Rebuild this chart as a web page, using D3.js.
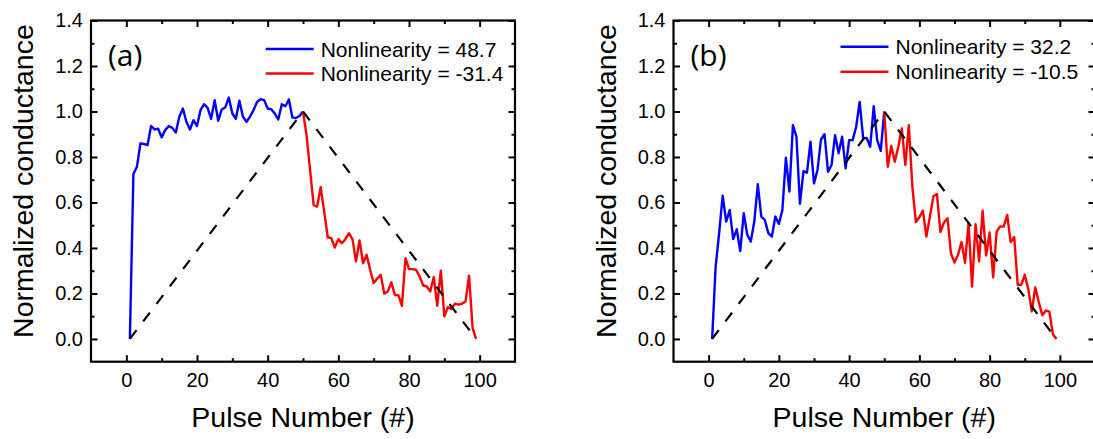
<!DOCTYPE html>
<html>
<head>
<meta charset="utf-8">
<script src="https://cdn.jsdelivr.net/npm/d3@7"></script>
<style>
	body { margin: 0; background: #fff; }
	svg { display: block; }
	text { font-family: "Liberation Sans", Arial, sans-serif; fill: #000; }
</style>
</head>
<body>
<svg width="1093" height="439"></svg>
<script>
// Pulse numbers for the potentiation (up) and depression (down) halves
var pulsesUp = d3.range(1, 51),
	pulsesDown = d3.range(50, 100)

// Panel (a) values
var aUp = [0.0, 0.725, 0.757, 0.86, 0.857, 0.852, 0.936, 0.921, 0.924, 0.886,
	0.918, 0.936, 0.928, 0.908, 0.977, 1.013, 0.955, 0.921, 0.962, 0.936,
	1.006, 1.032, 1.016, 0.968, 1.05, 0.959, 1.009, 1.018, 1.061, 0.991,
	0.968, 1.047, 0.977, 0.955, 0.977, 1.006, 1.042, 1.054, 1.05, 1.013,
	1.01, 0.991, 0.965, 1.032, 1.023, 1.053, 0.974, 0.971, 0.98, 1.0]
var aDown = [1.0, 0.896, 0.743, 0.589, 0.582, 0.667, 0.56, 0.447, 0.443, 0.402,
	0.439, 0.421, 0.439, 0.465, 0.439, 0.341, 0.433, 0.333, 0.37, 0.304,
	0.246, 0.265, 0.282, 0.199, 0.209, 0.249, 0.194, 0.192, 0.146, 0.355,
	0.307, 0.307, 0.304, 0.275, 0.235, 0.231, 0.209, 0.272, 0.146, 0.3,
	0.099, 0.14, 0.132, 0.155, 0.151, 0.155, 0.165, 0.278, 0.048, 0.0]

// Panel (b) values
var bUp = [0.0, 0.319, 0.465, 0.63, 0.516, 0.567, 0.439, 0.482, 0.387, 0.553,
	0.458, 0.428, 0.516, 0.68, 0.538, 0.523, 0.465, 0.45, 0.538, 0.506,
	0.567, 0.797, 0.648, 0.94, 0.889, 0.594, 0.738, 0.731, 0.867, 0.684,
	0.743, 0.877, 0.9, 0.735, 0.765, 0.896, 0.816, 0.889, 0.75, 0.874,
	0.874, 0.933, 1.042, 0.882, 0.884, 0.845, 1.023, 0.874, 0.827, 1.0]
var bDown = [1.0, 0.757, 0.849, 0.779, 0.845, 0.925, 0.765, 0.94, 0.67, 0.514,
	0.535, 0.564, 0.45, 0.538, 0.627, 0.637, 0.47, 0.512, 0.531, 0.375,
	0.336, 0.37, 0.426, 0.335, 0.509, 0.23, 0.505, 0.341, 0.564, 0.367,
	0.468, 0.271, 0.472, 0.495, 0.494, 0.545, 0.426, 0.448, 0.238, 0.238,
	0.282, 0.22, 0.121, 0.226, 0.162, 0.104, 0.125, 0.12, 0.022, 0.0]

// Ideal linear reference (dashed)
var refX = [1, 50, 99],
	refY = [0, 1, 0]

// Tick values
var xMajor = [0, 20, 40, 60, 80, 100],
	xMinor = [10, 30, 50, 70, 90],
	yMajor = [0, 0.2, 0.4, 0.6, 0.8, 1.0, 1.2, 1.4],
	yMinor = [0.1, 0.3, 0.5, 0.7, 0.9, 1.1, 1.3]

var legendA = ["Nonlinearity = 48.7", "Nonlinearity = -31.4"],
	legendB = ["Nonlinearity = 32.2", "Nonlinearity = -10.5"]

var svg = d3.select("svg")

function drawPanel(p) {
	var top = 20.5, bottom = 361.7
	var x = d3.scaleLinear().domain([-10, 110]).range([p.left, p.right]),
		y = d3.scaleLinear().domain([-0.1, 1.4]).range([bottom, top])

	var g = svg.append("g")

	// helper to style an axis group after d3 built it
	function fix(sel, size) {
		sel.select(".domain").remove()
		sel.attr("font-family", null).attr("font-size", size)
		sel.selectAll(".tick line").attr("stroke-width", 2)
	}

	// major and minor ticks on all four sides, pointing inward
	g.append("g").attr("transform", "translate(0," + bottom + ")")
		.call(d3.axisBottom(x).tickValues(xMajor).tickSizeInner(-6.5).tickSizeOuter(0).tickPadding(11))
		.call(fix, 20)
	g.append("g").attr("transform", "translate(0," + bottom + ")")
		.call(d3.axisBottom(x).tickValues(xMinor).tickSize(-3.5).tickFormat(""))
		.call(fix, 20)
	g.append("g").attr("transform", "translate(0," + top + ")")
		.call(d3.axisTop(x).tickValues(xMajor).tickSize(-6.5).tickFormat(""))
		.call(fix, 20)
	g.append("g").attr("transform", "translate(0," + top + ")")
		.call(d3.axisTop(x).tickValues(xMinor).tickSize(-3.5).tickFormat(""))
		.call(fix, 20)

	g.append("g").attr("transform", "translate(" + p.left + ",0)")
		.call(d3.axisLeft(y).tickValues(yMajor).tickSizeInner(-6.5).tickSizeOuter(0).tickPadding(8)
			.tickFormat(d3.format(".1f")))
		.call(fix, 20)
	g.append("g").attr("transform", "translate(" + p.left + ",0)")
		.call(d3.axisLeft(y).tickValues(yMinor).tickSize(-3.5).tickFormat(""))
		.call(fix, 20)
	g.append("g").attr("transform", "translate(" + p.right + ",0)")
		.call(d3.axisRight(y).tickValues(yMajor).tickSize(-6.5).tickFormat(""))
		.call(fix, 20)
	g.append("g").attr("transform", "translate(" + p.right + ",0)")
		.call(d3.axisRight(y).tickValues(yMinor).tickSize(-3.5).tickFormat(""))
		.call(fix, 20)

	// frame
	g.append("rect")
		.attr("x", p.left).attr("y", top)
		.attr("width", p.right - p.left).attr("height", bottom - top)
		.attr("fill", "none").attr("stroke", "#000").attr("stroke-width", 2.2)

	var line = d3.line()
		.x(function(d) { return x(d[0]) })
		.y(function(d) { return y(d[1]) })

	g.append("path")
		.datum(pulsesUp.map(function(v, i) { return [v, p.up[i]] }))
		.attr("d", line)
		.attr("fill", "none").attr("stroke", "#0000ff").attr("stroke-width", 2.4)
		.attr("stroke-linejoin", "round")

	g.append("path")
		.datum(pulsesDown.map(function(v, i) { return [v, p.down[i]] }))
		.attr("d", line)
		.attr("fill", "none").attr("stroke", "#ff0000").attr("stroke-width", 2.4)
		.attr("stroke-linejoin", "round")

	g.append("path")
		.datum(refX.map(function(v, i) { return [v, refY[i]] }))
		.attr("d", line)
		.attr("fill", "none").attr("stroke", "#000").attr("stroke-width", 2.2)
		.attr("stroke-dasharray", "11,11")

	// legend
	var colors = ["#0000ff", "#ff0000"]
	p.legend.forEach(function(t, i) {
		var ly = p.legY[i]
		g.append("line")
			.attr("x1", p.legX).attr("x2", p.legX + 48)
			.attr("y1", ly).attr("y2", ly)
			.attr("stroke", colors[i]).attr("stroke-width", 2.4)
		g.append("text")
			.attr("x", p.legX + 55).attr("y", ly + 7.6)
			.attr("font-size", 21)
			.text(t)
	})

	// panel letter
	g.append("text")
		.attr("x", p.left + 17).attr("y", 66)
		.style("font-family", "'Open Sans', sans-serif")
		.attr("font-size", 30)
		.text(p.label)

	// axis titles
	g.append("text")
		.attr("x", (p.left + p.right) / 2).attr("y", 427)
		.attr("text-anchor", "middle")
		.attr("font-size", 28.5)
		.text("Pulse Number (#)")

	g.append("text")
		.attr("transform", "translate(" + (p.left - 57.7) + "," + ((top + bottom) / 2 - 10) + ") rotate(-90)")
		.attr("text-anchor", "middle")
		.attr("font-size", 28.5)
		.text("Normalized conductance")
}

drawPanel({ left: 91, right: 515, up: aUp, down: aDown, legend: legendA,
	legX: 265.7, legY: [49, 73.5], label: "(a)" })
drawPanel({ left: 673.5, right: 1095, up: bUp, down: bDown, legend: legendB,
	legX: 840.5, legY: [46.8, 71.8], label: "(b)" })
</script>
</body>
</html>
